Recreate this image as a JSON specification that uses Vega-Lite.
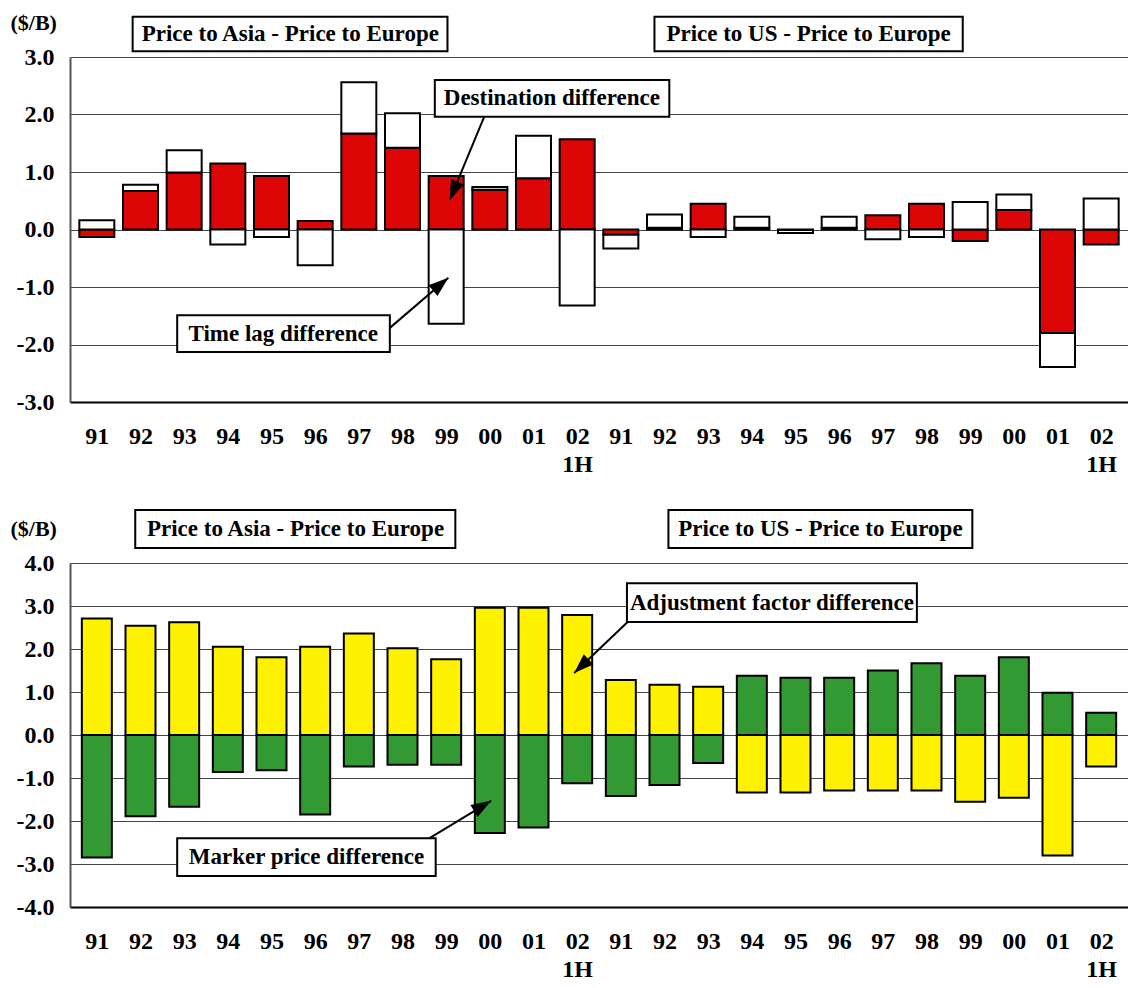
{
  "$schema": "https://vega.github.io/schema/vega-lite/v6.json",
  "autosize": {"type": "pad"},
  "padding": {"left": 10, "top": 11, "right": 0, "bottom": 0},
  "background": "white",
  "config": {
    "font": "Liberation Serif",
    "view": {"stroke": null},
    "axisY": {
      "ticks": false,
      "domainColor": "#555555",
      "domainWidth": 2,
      "gridColor": "#444444",
      "gridWidth": 1,
      "labelFontSize": 24,
      "labelFontWeight": "bold",
      "labelColor": "black",
      "labelPadding": 16,
      "titleFontSize": 22,
      "titleFontWeight": "bold",
      "titleColor": "black",
      "titleAngle": 0,
      "titleAlign": "left",
      "titleBaseline": "middle",
      "titleX": -60,
      "titleY": -35,
      "labelExpr": "(datum.value < 0 ? '-' : '') + format(abs(datum.value), '.1f')"
    },
    "axisX": {
      "ticks": false,
      "grid": false,
      "domainColor": "black",
      "domainWidth": 2,
      "labelFontSize": 24,
      "labelFontWeight": "bold",
      "labelColor": "black",
      "labelPadding": 22,
      "labelLineHeight": 28,
      "labelOverlap": false,
      "labelFlush": false,
      "labelBound": false,
      "values": [1,2,3,4,5,6,7,8,9,10,11,12,13,14,15,16,17,18,19,20,21,22,23,24],
      "labelExpr": "['91','92','93','94','95','96','97','98','99','00','01',['02','1H'],'91','92','93','94','95','96','97','98','99','00','01',['02','1H']][datum.value - 1]"
    }
  },
  "datasets": {
    "top": [
      {"i": 1, "part": "Destination difference", "v": -0.13},
      {"i": 2, "part": "Destination difference", "v": 0.67},
      {"i": 3, "part": "Destination difference", "v": 0.99},
      {"i": 4, "part": "Destination difference", "v": 1.15},
      {"i": 5, "part": "Destination difference", "v": 0.93},
      {"i": 6, "part": "Destination difference", "v": 0.15},
      {"i": 7, "part": "Destination difference", "v": 1.67},
      {"i": 8, "part": "Destination difference", "v": 1.42},
      {"i": 9, "part": "Destination difference", "v": 0.93},
      {"i": 10, "part": "Destination difference", "v": 0.69},
      {"i": 11, "part": "Destination difference", "v": 0.89},
      {"i": 12, "part": "Destination difference", "v": 1.57},
      {"i": 13, "part": "Destination difference", "v": -0.09},
      {"i": 14, "part": "Destination difference", "v": 0.03},
      {"i": 15, "part": "Destination difference", "v": 0.45},
      {"i": 16, "part": "Destination difference", "v": 0.03},
      {"i": 17, "part": "Destination difference", "v": -0.01},
      {"i": 18, "part": "Destination difference", "v": 0.03},
      {"i": 19, "part": "Destination difference", "v": 0.25},
      {"i": 20, "part": "Destination difference", "v": 0.45},
      {"i": 21, "part": "Destination difference", "v": -0.20},
      {"i": 22, "part": "Destination difference", "v": 0.34},
      {"i": 23, "part": "Destination difference", "v": -1.80},
      {"i": 24, "part": "Destination difference", "v": -0.26},
      {"i": 1, "part": "Time lag difference", "v": 0.16},
      {"i": 2, "part": "Time lag difference", "v": 0.11},
      {"i": 3, "part": "Time lag difference", "v": 0.39},
      {"i": 4, "part": "Time lag difference", "v": -0.26},
      {"i": 5, "part": "Time lag difference", "v": -0.13},
      {"i": 6, "part": "Time lag difference", "v": -0.62},
      {"i": 7, "part": "Time lag difference", "v": 0.89},
      {"i": 8, "part": "Time lag difference", "v": 0.60},
      {"i": 9, "part": "Time lag difference", "v": -1.64},
      {"i": 10, "part": "Time lag difference", "v": 0.05},
      {"i": 11, "part": "Time lag difference", "v": 0.74},
      {"i": 12, "part": "Time lag difference", "v": -1.32},
      {"i": 13, "part": "Time lag difference", "v": -0.24},
      {"i": 14, "part": "Time lag difference", "v": 0.23},
      {"i": 15, "part": "Time lag difference", "v": -0.13},
      {"i": 16, "part": "Time lag difference", "v": 0.19},
      {"i": 17, "part": "Time lag difference", "v": -0.05},
      {"i": 18, "part": "Time lag difference", "v": 0.19},
      {"i": 19, "part": "Time lag difference", "v": -0.17},
      {"i": 20, "part": "Time lag difference", "v": -0.13},
      {"i": 21, "part": "Time lag difference", "v": 0.48},
      {"i": 22, "part": "Time lag difference", "v": 0.27},
      {"i": 23, "part": "Time lag difference", "v": -0.59},
      {"i": 24, "part": "Time lag difference", "v": 0.54}
    ],
    "bottom": [
      {"i": 1, "part": "Adjustment factor difference", "v": 2.71},
      {"i": 2, "part": "Adjustment factor difference", "v": 2.54},
      {"i": 3, "part": "Adjustment factor difference", "v": 2.62},
      {"i": 4, "part": "Adjustment factor difference", "v": 2.05},
      {"i": 5, "part": "Adjustment factor difference", "v": 1.81},
      {"i": 6, "part": "Adjustment factor difference", "v": 2.05},
      {"i": 7, "part": "Adjustment factor difference", "v": 2.36},
      {"i": 8, "part": "Adjustment factor difference", "v": 2.02},
      {"i": 9, "part": "Adjustment factor difference", "v": 1.76},
      {"i": 10, "part": "Adjustment factor difference", "v": 2.96},
      {"i": 11, "part": "Adjustment factor difference", "v": 2.96},
      {"i": 12, "part": "Adjustment factor difference", "v": 2.79},
      {"i": 13, "part": "Adjustment factor difference", "v": 1.28},
      {"i": 14, "part": "Adjustment factor difference", "v": 1.17},
      {"i": 15, "part": "Adjustment factor difference", "v": 1.12},
      {"i": 16, "part": "Adjustment factor difference", "v": -1.34},
      {"i": 17, "part": "Adjustment factor difference", "v": -1.34},
      {"i": 18, "part": "Adjustment factor difference", "v": -1.29},
      {"i": 19, "part": "Adjustment factor difference", "v": -1.29},
      {"i": 20, "part": "Adjustment factor difference", "v": -1.29},
      {"i": 21, "part": "Adjustment factor difference", "v": -1.55},
      {"i": 22, "part": "Adjustment factor difference", "v": -1.46},
      {"i": 23, "part": "Adjustment factor difference", "v": -2.80},
      {"i": 24, "part": "Adjustment factor difference", "v": -0.73},
      {"i": 1, "part": "Marker price difference", "v": -2.85},
      {"i": 2, "part": "Marker price difference", "v": -1.89},
      {"i": 3, "part": "Marker price difference", "v": -1.67},
      {"i": 4, "part": "Marker price difference", "v": -0.86},
      {"i": 5, "part": "Marker price difference", "v": -0.82},
      {"i": 6, "part": "Marker price difference", "v": -1.85},
      {"i": 7, "part": "Marker price difference", "v": -0.73},
      {"i": 8, "part": "Marker price difference", "v": -0.69},
      {"i": 9, "part": "Marker price difference", "v": -0.69},
      {"i": 10, "part": "Marker price difference", "v": -2.28},
      {"i": 11, "part": "Marker price difference", "v": -2.15},
      {"i": 12, "part": "Marker price difference", "v": -1.12},
      {"i": 13, "part": "Marker price difference", "v": -1.42},
      {"i": 14, "part": "Marker price difference", "v": -1.16},
      {"i": 15, "part": "Marker price difference", "v": -0.65},
      {"i": 16, "part": "Marker price difference", "v": 1.38},
      {"i": 17, "part": "Marker price difference", "v": 1.33},
      {"i": 18, "part": "Marker price difference", "v": 1.33},
      {"i": 19, "part": "Marker price difference", "v": 1.50},
      {"i": 20, "part": "Marker price difference", "v": 1.67},
      {"i": 21, "part": "Marker price difference", "v": 1.38},
      {"i": 22, "part": "Marker price difference", "v": 1.81},
      {"i": 23, "part": "Marker price difference", "v": 0.98},
      {"i": 24, "part": "Marker price difference", "v": 0.52}
    ],
    "notesTop": [
      {"label": "Price to Asia - Price to Europe", "x1": 1.82, "x2": 9.03, "y1": 3.70, "y2": 3.10, "xc": 5.43, "yc": 3.40},
      {"label": "Price to US - Price to Europe", "x1": 13.77, "x2": 20.83, "y1": 3.70, "y2": 3.10, "xc": 17.30, "yc": 3.40},
      {"label": "Destination difference", "x1": 8.74, "x2": 14.11, "y1": 2.60, "y2": 1.96, "xc": 11.42, "yc": 2.28},
      {"label": "Time lag difference", "x1": 2.84, "x2": 7.71, "y1": -1.49, "y2": -2.13, "xc": 5.27, "yc": -1.81}
    ],
    "notesBottom": [
      {"label": "Price to Asia - Price to Europe", "x1": 1.88, "x2": 9.21, "y1": 5.23, "y2": 4.35, "xc": 5.55, "yc": 4.79},
      {"label": "Price to US - Price to Europe", "x1": 14.09, "x2": 21.05, "y1": 5.23, "y2": 4.35, "xc": 17.57, "yc": 4.79},
      {"label": "Adjustment factor difference", "x1": 13.14, "x2": 19.78, "y1": 3.53, "y2": 2.63, "xc": 16.46, "yc": 3.08},
      {"label": "Marker price difference", "x1": 2.84, "x2": 8.76, "y1": -2.40, "y2": -3.28, "xc": 5.80, "yc": -2.84}
    ],
    "arrowsTop": [
      {"name": "dest", "x": 9.87, "y": 1.96, "xt": 9.08, "yt": 0.51},
      {"name": "lag", "x": 7.65, "y": -1.75, "xt": 9.05, "yt": -0.84}
    ],
    "arrowsBottom": [
      {"name": "adj", "x": 13.27, "y": 2.74, "xt": 11.93, "yt": 1.44},
      {"name": "mark", "x": 8.62, "y": -2.40, "xt": 10.03, "yt": -1.53}
    ]
  },
  "bounds": "flush",
  "spacing": 161,
  "resolve": {"scale": {"color": "independent"}},
  "vconcat": [
    {
      "width": 1058,
      "height": 345,
      "layer": [
        {
          "data": {"name": "top"},
          "mark": {"type": "bar", "width": 35, "stroke": "black", "strokeWidth": 2},
          "encoding": {
            "x": {"field": "i", "type": "quantitative", "title": null, "scale": {"domain": [0.5, 24.5], "nice": false, "zero": false}},
            "y": {"field": "v", "type": "quantitative", "stack": "zero", "title": "($/B)", "scale": {"domain": [-3, 3], "nice": false}, "axis": {"values": [-3, -2, -1, 0, 1, 2, 3]}},
            "color": {"field": "part", "type": "nominal", "scale": {"domain": ["Destination difference", "Time lag difference"], "range": ["#dd0606", "#ffffff"]}, "legend": null},
            "order": {"field": "part", "type": "nominal", "sort": "ascending"}
          }
        },
        {"mark": {"type": "rule", "color": "#555555", "strokeWidth": 1}, "encoding": {"x": {"datum": 12.5}}},
        {"mark": {"type": "rule", "color": "black", "strokeWidth": 2.5}, "encoding": {"y": {"datum": 0}}},
        {"mark": {"type": "rule", "color": "black", "strokeWidth": 2}, "encoding": {"y": {"datum": 3}}},
        {
          "data": {"name": "arrowsTop"},
          "mark": {"type": "rule", "color": "black", "strokeWidth": 2},
          "encoding": {
            "x": {"field": "x", "type": "quantitative", "title": null},
            "y": {"field": "y", "type": "quantitative", "title": "($/B)"},
            "x2": {"field": "xt"},
            "y2": {"field": "yt"}
          }
        },
        {
          "data": {"name": "arrowsTop"},
          "transform": [{"filter": "datum.name == 'dest'"}],
          "mark": {"type": "point", "shape": "M0,0L-0.7,2L0.7,2Z", "size": 400, "angle": 203, "filled": true, "color": "black", "opacity": 1},
          "encoding": {
            "x": {"field": "xt", "type": "quantitative", "title": null},
            "y": {"field": "yt", "type": "quantitative", "title": "($/B)"}
          }
        },
        {
          "data": {"name": "arrowsTop"},
          "transform": [{"filter": "datum.name == 'lag'"}],
          "mark": {"type": "point", "shape": "M0,0L-0.7,2L0.7,2Z", "size": 400, "angle": 50, "filled": true, "color": "black", "opacity": 1},
          "encoding": {
            "x": {"field": "xt", "type": "quantitative", "title": null},
            "y": {"field": "yt", "type": "quantitative", "title": "($/B)"}
          }
        },
        {
          "data": {"name": "notesTop"},
          "mark": {"type": "rect", "fill": "white", "stroke": "black", "strokeWidth": 2},
          "encoding": {
            "x": {"field": "x1", "type": "quantitative", "title": null},
            "x2": {"field": "x2"},
            "y": {"field": "y1", "type": "quantitative", "title": "($/B)"},
            "y2": {"field": "y2"}
          }
        },
        {
          "data": {"name": "notesTop"},
          "mark": {"type": "text", "fontSize": 23, "fontWeight": "bold", "color": "black", "align": "center", "baseline": "middle"},
          "encoding": {
            "x": {"field": "xc", "type": "quantitative", "title": null},
            "y": {"field": "yc", "type": "quantitative", "title": "($/B)"},
            "text": {"field": "label"}
          }
        }
      ]
    },
    {
      "width": 1058,
      "height": 344,
      "layer": [
        {
          "data": {"name": "bottom"},
          "mark": {"type": "bar", "width": 30, "stroke": "black", "strokeWidth": 2},
          "encoding": {
            "x": {"field": "i", "type": "quantitative", "title": null, "scale": {"domain": [0.5, 24.5], "nice": false, "zero": false}},
            "y": {"field": "v", "type": "quantitative", "stack": "zero", "title": "($/B)", "scale": {"domain": [-4, 4], "nice": false}, "axis": {"values": [-4, -3, -2, -1, 0, 1, 2, 3, 4]}},
            "color": {"field": "part", "type": "nominal", "scale": {"domain": ["Adjustment factor difference", "Marker price difference"], "range": ["#fff200", "#339933"]}, "legend": null},
            "order": {"field": "part", "type": "nominal", "sort": "ascending"}
          }
        },
        {"mark": {"type": "rule", "color": "#555555", "strokeWidth": 1}, "encoding": {"x": {"datum": 12.5}}},
        {"mark": {"type": "rule", "color": "black", "strokeWidth": 2.5}, "encoding": {"y": {"datum": 0}}},
        {"mark": {"type": "rule", "color": "black", "strokeWidth": 2}, "encoding": {"y": {"datum": 4}}},
        {
          "data": {"name": "arrowsBottom"},
          "mark": {"type": "rule", "color": "black", "strokeWidth": 2},
          "encoding": {
            "x": {"field": "x", "type": "quantitative", "title": null},
            "y": {"field": "y", "type": "quantitative", "title": "($/B)"},
            "x2": {"field": "xt"},
            "y2": {"field": "yt"}
          }
        },
        {
          "data": {"name": "arrowsBottom"},
          "transform": [{"filter": "datum.name == 'adj'"}],
          "mark": {"type": "point", "shape": "M0,0L-0.7,2L0.7,2Z", "size": 400, "angle": 226.5, "filled": true, "color": "black", "opacity": 1},
          "encoding": {
            "x": {"field": "xt", "type": "quantitative", "title": null},
            "y": {"field": "yt", "type": "quantitative", "title": "($/B)"}
          }
        },
        {
          "data": {"name": "arrowsBottom"},
          "transform": [{"filter": "datum.name == 'mark'"}],
          "mark": {"type": "point", "shape": "M0,0L-0.7,2L0.7,2Z", "size": 400, "angle": 59, "filled": true, "color": "black", "opacity": 1},
          "encoding": {
            "x": {"field": "xt", "type": "quantitative", "title": null},
            "y": {"field": "yt", "type": "quantitative", "title": "($/B)"}
          }
        },
        {
          "data": {"name": "notesBottom"},
          "mark": {"type": "rect", "fill": "white", "stroke": "black", "strokeWidth": 2},
          "encoding": {
            "x": {"field": "x1", "type": "quantitative", "title": null},
            "x2": {"field": "x2"},
            "y": {"field": "y1", "type": "quantitative", "title": "($/B)"},
            "y2": {"field": "y2"}
          }
        },
        {
          "data": {"name": "notesBottom"},
          "mark": {"type": "text", "fontSize": 23, "fontWeight": "bold", "color": "black", "align": "center", "baseline": "middle"},
          "encoding": {
            "x": {"field": "xc", "type": "quantitative", "title": null},
            "y": {"field": "yc", "type": "quantitative", "title": "($/B)"},
            "text": {"field": "label"}
          }
        }
      ]
    }
  ]
}
